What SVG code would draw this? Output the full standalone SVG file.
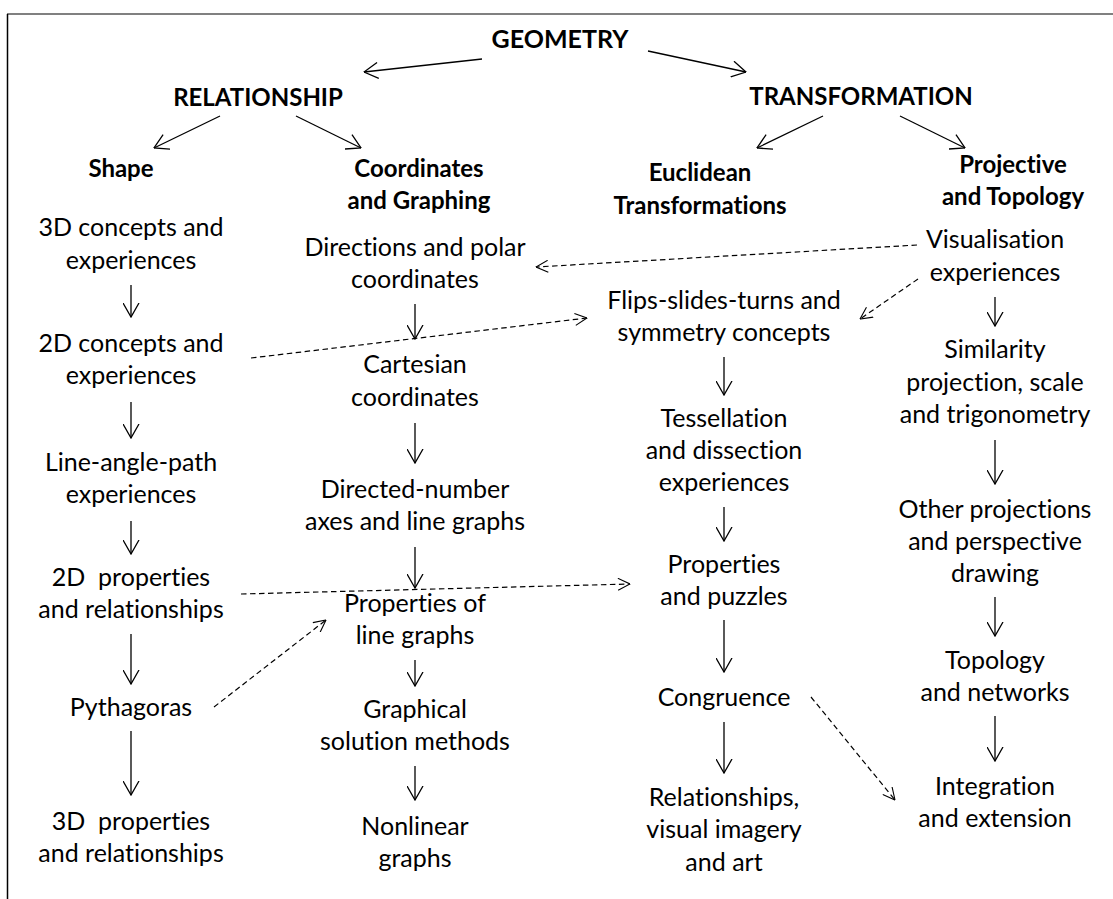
<svg xmlns="http://www.w3.org/2000/svg" width="1113" height="899" viewBox="0 0 1113 899">
  <style>
    text { font-family: Lato, "Liberation Sans", sans-serif; font-size: 25px; fill: #000; text-anchor: middle; font-variant-ligatures: none; }
    .h { font-weight: bold; font-size: 24px; }
    .solid { stroke: #000; stroke-width: 1.3; fill: none; marker-end: url(#head); }
    .dash { stroke: #000; stroke-width: 1.2; fill: none; stroke-dasharray: 5.5 3.5; marker-end: url(#dhead); }
  </style>
  <defs>
    <marker id="head" viewBox="0 0 15 17" refX="14.5" refY="8.5" markerWidth="15" markerHeight="17" markerUnits="userSpaceOnUse" orient="auto">
      <path d="M0.5,0.5 L14.5,8.5 L0.5,16.5" fill="none" stroke="#000" stroke-width="1.3"/>
    </marker>
    <marker id="dhead" viewBox="0 0 13 13" refX="12.5" refY="6.5" markerWidth="13" markerHeight="13" markerUnits="userSpaceOnUse" orient="auto">
      <path d="M0.5,0.5 L12.5,6.5 L0.5,12.5" fill="none" stroke="#000" stroke-width="1.1"/>
    </marker>
  </defs>

  <rect width="1113" height="899" fill="#fff"/>
  <!-- page frame -->
  <line x1="7" y1="14" x2="1113" y2="14" stroke="#808080" stroke-width="2"/>
  <line x1="7.5" y1="14" x2="7.5" y2="899" stroke="#000" stroke-width="1.5"/>

  <!-- headings -->
  <g id="geometry"><text class="h" x="560" y="48" style="font-size:25px">GEOMETRY</text></g>
  <g id="relationship"><text class="h" x="258" y="106">RELATIONSHIP</text></g>
  <g id="transformation"><text class="h" x="861" y="105">TRANSFORMATION</text></g>
  <g id="shape"><text class="h" x="121" y="177">Shape</text></g>
  <g id="coordinates-graphing"><text class="h" x="419" y="177">Coordinates</text><text class="h" x="419" y="209">and Graphing</text></g>
  <g id="euclidean"><text class="h" x="700" y="181">Euclidean</text><text class="h" x="700" y="214">Transformations</text></g>
  <g id="projective-topology"><text class="h" x="1013" y="173">Projective</text><text class="h" x="1013" y="205">and Topology</text></g>

  <!-- shape column -->
  <g id="s3d-concepts"><text x="131" y="236">3D concepts and</text><text x="131" y="269">experiences</text></g>
  <g id="s2d-concepts"><text x="131" y="352">2D concepts and</text><text x="131" y="384">experiences</text></g>
  <g id="line-angle-path"><text x="131" y="471">Line-angle-path</text><text x="131" y="503">experiences</text></g>
  <g id="s2d-properties"><text x="131" y="586" xml:space="preserve">2D  properties</text><text x="131" y="618">and relationships</text></g>
  <g id="pythagoras"><text x="131" y="716">Pythagoras</text></g>
  <g id="s3d-properties"><text x="131" y="830" xml:space="preserve">3D  properties</text><text x="131" y="862">and relationships</text></g>

  <!-- coordinates column -->
  <g id="directions"><text x="415" y="256">Directions and polar</text><text x="415" y="288">coordinates</text></g>
  <g id="cartesian"><text x="415" y="373">Cartesian</text><text x="415" y="406">coordinates</text></g>
  <g id="directed-number"><text x="415" y="498">Directed-number</text><text x="415" y="530">axes and line graphs</text></g>
  <g id="line-graph-properties"><text x="415" y="612">Properties of</text><text x="415" y="644">line graphs</text></g>
  <g id="graphical-methods"><text x="415" y="718">Graphical</text><text x="415" y="750">solution methods</text></g>
  <g id="nonlinear"><text x="415" y="835">Nonlinear</text><text x="415" y="867">graphs</text></g>

  <!-- euclidean column -->
  <g id="flips"><text x="724" y="309">Flips-slides-turns and</text><text x="724" y="341">symmetry concepts</text></g>
  <g id="tessellation"><text x="724" y="427">Tessellation</text><text x="724" y="459">and dissection</text><text x="724" y="491">experiences</text></g>
  <g id="puzzles"><text x="724" y="573">Properties</text><text x="724" y="605">and puzzles</text></g>
  <g id="congruence"><text x="724" y="706">Congruence</text></g>
  <g id="imagery"><text x="724" y="806">Relationships,</text><text x="724" y="838">visual imagery</text><text x="724" y="871">and art</text></g>

  <!-- projective column -->
  <g id="visualisation"><text x="995" y="248">Visualisation</text><text x="995" y="281">experiences</text></g>
  <g id="similarity"><text x="995" y="358">Similarity</text><text x="995" y="391">projection, scale</text><text x="995" y="423">and trigonometry</text></g>
  <g id="projections"><text x="995" y="518">Other projections</text><text x="995" y="550">and perspective</text><text x="995" y="582">drawing</text></g>
  <g id="topology"><text x="995" y="669">Topology</text><text x="995" y="701">and networks</text></g>
  <g id="integration"><text x="995" y="795">Integration</text><text x="995" y="827">and extension</text></g>

  <g id="connectors">
    <!-- headings -->
    <line class="solid" x1="482" y1="59" x2="364" y2="72"/>
    <line class="solid" x1="648" y1="51" x2="746" y2="72"/>
    <line class="solid" x1="220" y1="116" x2="154" y2="148"/>
    <line class="solid" x1="296" y1="116" x2="361" y2="148"/>
    <line class="solid" x1="823" y1="116" x2="757" y2="148"/>
    <line class="solid" x1="900" y1="116" x2="965" y2="148"/>
    <!-- shape column -->
    <line class="solid" x1="131" y1="285" x2="131" y2="317"/>
    <line class="solid" x1="131" y1="402" x2="131" y2="438"/>
    <line class="solid" x1="131" y1="521" x2="131" y2="554"/>
    <line class="solid" x1="131" y1="634" x2="131" y2="684"/>
    <line class="solid" x1="131" y1="731" x2="131" y2="795"/>
    <!-- coordinates column -->
    <line class="solid" x1="415" y1="304" x2="415" y2="339"/>
    <line class="solid" x1="415" y1="423" x2="415" y2="463"/>
    <line class="solid" x1="415" y1="547" x2="415" y2="588"/>
    <line class="solid" x1="415" y1="660" x2="415" y2="686"/>
    <line class="solid" x1="415" y1="766" x2="415" y2="800"/>
    <!-- euclidean column -->
    <line class="solid" x1="724" y1="357" x2="724" y2="395"/>
    <line class="solid" x1="724" y1="507" x2="724" y2="541"/>
    <line class="solid" x1="724" y1="620" x2="724" y2="672"/>
    <line class="solid" x1="724" y1="722" x2="724" y2="773"/>
    <!-- projective column -->
    <line class="solid" x1="995" y1="297" x2="995" y2="326"/>
    <line class="solid" x1="995" y1="440" x2="995" y2="484"/>
    <line class="solid" x1="995" y1="597" x2="995" y2="636"/>
    <line class="solid" x1="995" y1="716" x2="995" y2="761"/>
    <!-- cross links -->
    <line class="dash" x1="917" y1="245" x2="536" y2="267"/>
    <line class="dash" x1="918" y1="279" x2="860" y2="319"/>
    <line class="dash" x1="251" y1="358" x2="587" y2="318"/>
    <line class="dash" x1="241" y1="594" x2="630" y2="584"/>
    <line class="dash" x1="214" y1="707" x2="326" y2="620"/>
    <line class="dash" x1="811" y1="697" x2="895" y2="800"/>
  </g>
</svg>
